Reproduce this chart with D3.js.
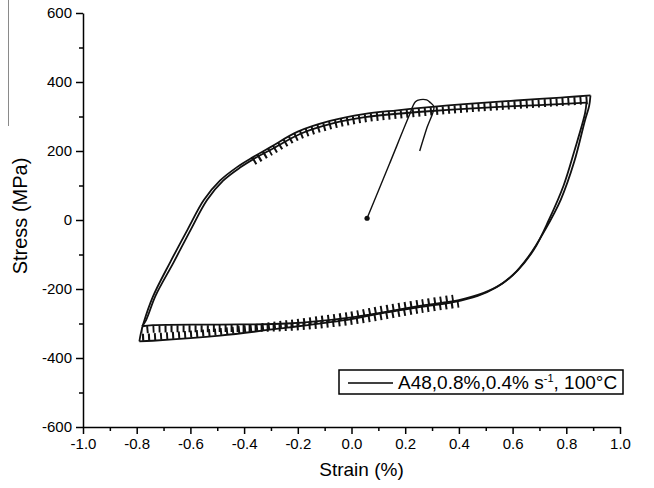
<!DOCTYPE html>
<html>
<head>
<meta charset="utf-8">
<script src="https://cdn.jsdelivr.net/npm/d3@7"></script>
<style>
  body { margin: 0; background: #fff; }
  svg { display: block; font-family: "Liberation Sans", Arial, sans-serif; }
  .axis path, .axis line { stroke: #000; stroke-width: 1.5; }
  .axis text { font-size: 15px; fill: #000; }
</style>
</head>
<body>
<div id="chart"></div>
<script>
// values: strain in %, stress in MPa
const strainTicks = [-1.0, -0.8, -0.6, -0.4, -0.2, 0.0, 0.2, 0.4, 0.6, 0.8, 1.0];
const stressTicks = [-600, -400, -200, 0, 200, 400, 600];

// first loading from the origin up to the small hump, then back down
const initialLoading = [
  [0.058, 5], [0.14, 160], [0.213, 299], [0.238, 343], [0.257, 349],
  [0.28, 348], [0.294, 340], [0.307, 328], [0.28, 265], [0.254, 200],
];

// outer stabilised loop: rising branch (compression tip -> tension tip)
const outerUpper = [
  [-0.79, -352], [-0.785, -330], [-0.775, -300], [-0.74, -223], [-0.675, -122],
  [-0.61, -27], [-0.55, 58], [-0.49, 114], [-0.425, 154], [-0.365, 183],
  [-0.30, 212], [-0.20, 256], [-0.08, 287], [0.045, 307], [0.17, 318],
  [0.30, 328], [0.42, 336], [0.55, 343], [0.70, 351], [0.80, 356], [0.89, 361],
];
// outer loop: falling branch (tension tip -> compression tip)
const outerLower = [
  [0.89, 361], [0.885, 330], [0.87, 290], [0.83, 170], [0.78, 60],
  [0.72, -30], [0.66, -105], [0.60, -160], [0.54, -195], [0.47, -220],
  [0.38, -238], [0.26, -252], [0.10, -272], [0.0, -287], [-0.24, -312],
  [-0.49, -335], [-0.74, -350], [-0.79, -352],
];

// inner loop (later cycles, slightly smaller)
const innerUpper = [
  [-0.78, -308], [-0.765, -290], [-0.73, -220], [-0.662, -122], [-0.598, -27],
  [-0.538, 58], [-0.478, 114], [-0.415, 152], [-0.355, 181], [-0.29, 208],
  [-0.19, 250], [-0.07, 280], [0.05, 298], [0.17, 308], [0.30, 316],
  [0.42, 322], [0.55, 328], [0.70, 333], [0.875, 340],
];
const innerLower = [
  [0.875, 340], [0.87, 310], [0.83, 200], [0.79, 100], [0.735, 0],
  [0.68, -85], [0.62, -145], [0.56, -185], [0.49, -212], [0.40, -232],
  [0.26, -248], [0.0, -282], [-0.24, -300], [-0.49, -303], [-0.74, -305],
  [-0.78, -308],
];

const legendLabel = "A48,0.8%,0.4% s";

const width = 654, height = 488;
const svg = d3.select("#chart").append("svg")
  .attr("width", width).attr("height", height);

const x = d3.scaleLinear().domain([-1, 1]).range([83, 620]);
const y = d3.scaleLinear().domain([-600, 600]).range([427, 13]);

// plain hyphen minus, as in the original figure
const fmtX = d => d3.format(".1f")(d).replace("\u2212", "-");
const fmtY = d => d3.format("d")(d).replace("\u2212", "-");

// stray crop line at the far left of the scan
svg.append("line")
  .attr("x1", 8.5).attr("x2", 8.5).attr("y1", 0).attr("y2", 126)
  .attr("stroke", "#8a8a8a").attr("stroke-width", 1);

// minor ticks first, then major axes on top
svg.append("g").attr("class", "axis")
  .attr("transform", `translate(0,${y(-600)})`)
  .call(d3.axisBottom(x).tickValues(d3.range(-0.9, 1, 0.2)).tickSize(4).tickFormat(""))
  .call(g => g.select(".domain").remove());
svg.append("g").attr("class", "axis")
  .attr("transform", `translate(${x(-1)},0)`)
  .call(d3.axisLeft(y).tickValues(d3.range(-500, 600, 200)).tickSize(4).tickFormat(""))
  .call(g => g.select(".domain").remove());

svg.append("g").attr("class", "axis")
  .attr("transform", `translate(0,${y(-600)})`)
  .call(d3.axisBottom(x).tickValues(strainTicks).tickSize(7).tickSizeOuter(0)
    .tickPadding(4).tickFormat(fmtX));
svg.append("g").attr("class", "axis")
  .attr("transform", `translate(${x(-1)},0)`)
  .call(d3.axisLeft(y).tickValues(stressTicks).tickSize(7).tickSizeOuter(0)
    .tickPadding(4).tickFormat(fmtY));

svg.append("text")
  .attr("x", (x(-1) + x(1)) / 2 + 10).attr("y", 476)
  .attr("text-anchor", "middle").attr("font-size", 19)
  .text("Strain (%)");
svg.append("text")
  .attr("transform", `translate(27,${y(0) - 4}) rotate(-90)`)
  .attr("text-anchor", "middle").attr("font-size", 20)
  .text("Stress (MPa)");

const line = d3.line()
  .x(d => x(d[0])).y(d => y(d[1]))
  .curve(d3.curveCatmullRom.alpha(0.5));

const plot = svg.append("g").attr("fill", "none").attr("stroke", "#111");

for (const branch of [outerUpper, outerLower, innerUpper, innerLower]) {
  plot.append("path").attr("d", line(branch)).attr("stroke-width", 1.8);
}

// the many overlaid cycles leave a toothed band along the flat parts
const comb = (pts, dy, w) => plot.append("path")
  .attr("d", line(pts))
  .attr("transform", `translate(0,${dy})`)
  .attr("stroke-width", w)
  .attr("stroke-dasharray", "2 4");
comb(outerUpper.filter(d => d[0] >= -0.4), 4.5, 8);
comb(innerLower.filter(d => d[0] <= 0.4), 4, 7);
comb(outerLower.filter(d => d[0] <= 0.4), -4, 7);

plot.append("path").attr("d", line(initialLoading)).attr("stroke-width", 1.4);
svg.append("circle")
  .attr("cx", x(initialLoading[0][0])).attr("cy", y(initialLoading[0][1]))
  .attr("r", 2.6).attr("fill", "#111");

// legend
const lg = svg.append("g").attr("transform", "translate(339,370)");
lg.append("rect").attr("width", 284).attr("height", 24)
  .attr("fill", "#fff").attr("stroke", "#000").attr("stroke-width", 1.5);
lg.append("line").attr("x1", 9).attr("x2", 54).attr("y1", 13).attr("y2", 13)
  .attr("stroke", "#000").attr("stroke-width", 1.3);
const lt = lg.append("text").attr("x", 59).attr("y", 19).attr("font-size", 19);
lt.append("tspan").text(legendLabel);
lt.append("tspan").attr("font-size", 11).attr("dy", -7).text("-1");
lt.append("tspan").attr("dy", 7).text(", 100\u00b0C");
</script>
</body>
</html>
